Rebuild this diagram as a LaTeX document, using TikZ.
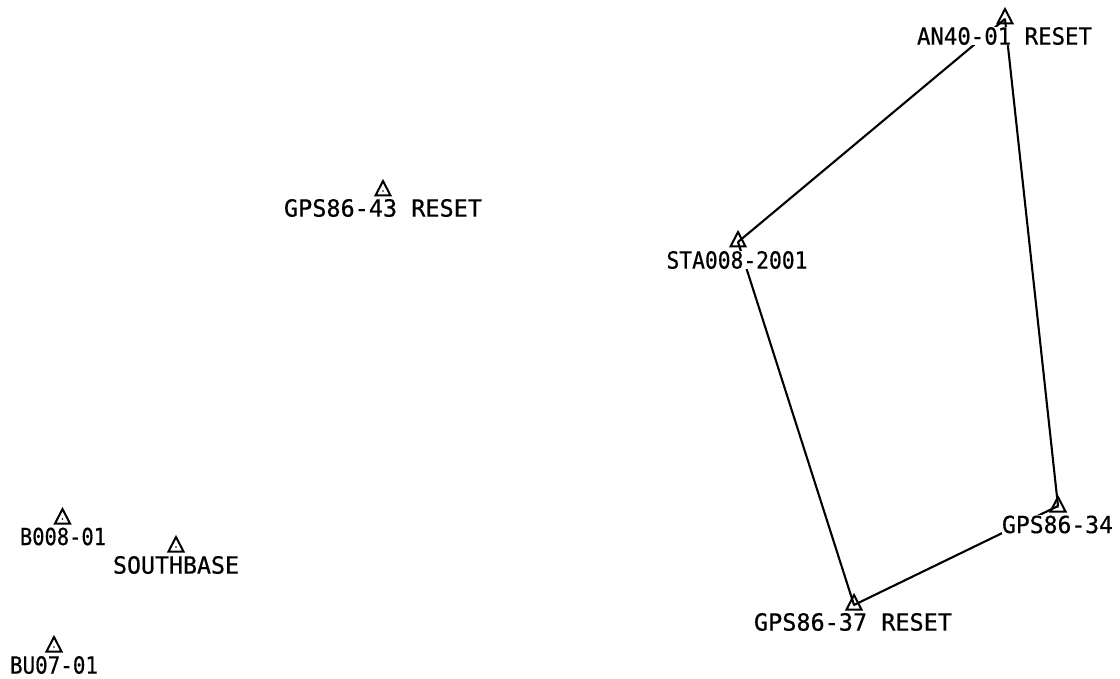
\documentclass[tikz,border=0pt]{standalone}
\usepackage{fontspec}
\usepackage{graphicx}
\setmainfont{DejaVu Sans Mono}[FakeBold=0.6]
\newcommand{\lbl}[2]{\resizebox{#1pt}{17.5pt}{#2}}
\begin{document}
\begin{tikzpicture}[x=1pt,y=-1pt,
  conn/.style={draw=black,line width=2.1pt},
  labelbox/.style={fill=white,inner sep=0pt,outer sep=0pt,text=black,font=\fontsize{23.4}{24}\selectfont,anchor=center,minimum height=18.5pt},
  station/.style={draw=black,line width=2pt,line join=miter,fill=none}]
\useasboundingbox (0,0) rectangle (1120,679);
% station points
\coordinate (an) at (1005,19);
\coordinate (sta) at (738,242);
\coordinate (g34) at (1058,506);
\coordinate (g37) at (854,605);
\draw[conn] (an) -- (sta);
\draw[conn] (sta) -- (g37);
\draw[conn] (g37) -- (g34);
\draw[conn] (g34) -- (an);
% labels (white boxes mask the lines)
\node[labelbox] (lan) at (1004.5,36) {\lbl{175}{AN40-01 RESET}};
\node[labelbox] (l43) at (383,208) {\lbl{198}{GPS86-43 RESET}};
\node[labelbox] (lsta) at (737,260) {\lbl{141}{STA008-2001}};
\node[labelbox] (l34) at (1057.5,524.5) {\lbl{111}{GPS86-34}};
\node[labelbox] (l37) at (853,622) {\lbl{198}{GPS86-37 RESET}};
\node[labelbox] (lb8) at (63,536.5) {\lbl{86}{B008-01}};
\node[labelbox] (lsb) at (176,565) {\lbl{126}{SOUTHBASE}};
\node[labelbox] (lbu) at (54,665) {\lbl{88}{BU07-01}};
% triangles
\foreach \x/\y in {1005/19,383/191,738/242,1058/507,854/605,62.5/519,176/547,54/647}{
  \draw[station] (\x-7.5,\y+4.5) -- (\x,\y-10) -- (\x+7.5,\y+4.5) -- cycle;
  \fill (\x,\y) circle (0.8pt);
}
\end{tikzpicture}
\end{document}
